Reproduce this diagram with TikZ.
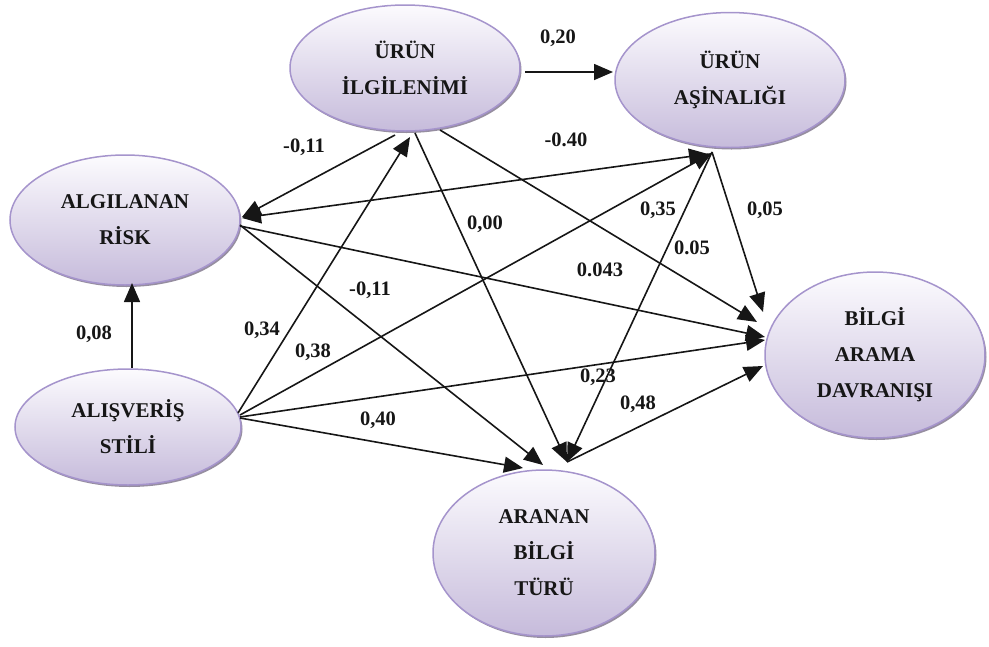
\documentclass[tikz,border=0pt]{standalone}
\usepackage{fontspec}
\setmainfont{Liberation Serif}
\usetikzlibrary{shapes.geometric,arrows.meta,calc,shadows}
\definecolor{lavtop}{RGB}{252,251,254}
\definecolor{lavbot}{RGB}{198,187,219}
\definecolor{lavline}{RGB}{165,148,204}
\definecolor{shad}{RGB}{150,142,160}
\definecolor{ink}{RGB}{22,22,22}
\begin{document}
\begin{tikzpicture}[x=1pt,y=-1pt,
  latent/.style={ellipse, draw=lavline, line width=1.5pt, top color=lavtop, bottom color=lavbot,
    drop shadow={shadow xshift=1.5pt, shadow yshift=-2pt, fill=shad, opacity=1},
    align=center, text=ink, font=\fontsize{21}{36}\selectfont\bfseries, inner sep=0pt},
  arr/.style={-{Triangle[length=19pt,width=16pt]}, line width=1.6pt, draw=ink},
  barr/.style={{Triangle[length=19pt,width=16pt]}-{Triangle[length=19pt,width=16pt]}, line width=1.6pt, draw=ink},
  lab/.style={font=\fontsize{20.5}{24}\selectfont\bfseries, inner sep=0pt, text=ink}]
\useasboundingbox (0,0) rectangle (989,646);

\node[latent, minimum width=230pt, minimum height=126pt] (ui) at (405,68) {ÜRÜN\\İLGİLENİMİ};
\node[latent, minimum width=230pt, minimum height=135pt] (ua) at (730,80) {ÜRÜN\\AŞİNALIĞI};
\node[latent, minimum width=230pt, minimum height=130pt] (risk) at (125,220) {ALGILANAN\\RİSK};
\node[latent, minimum width=226pt, minimum height=116pt] (alis) at (128,427) {ALIŞVERİŞ\\STİLİ};
\node[latent, minimum width=220pt, minimum height=166pt] (bilgi) at (875,355) {BİLGİ\\ARAMA\\DAVRANIŞI};
\node[latent, minimum width=222pt, minimum height=166pt] (aranan) at (544,553) {ARANAN\\BİLGİ\\TÜRÜ};

% connectors
\draw[arr] ($(ui)+(120,4)$) -- ($(ua)+(-117,-8)$);
\draw[arr] ($(ui)+(-10,67)$) -- ($(risk)+(117,-3)$);
\draw[barr] ($(ua)+(-22,74)$) -- ($(risk)+(117,-2)$);
\draw[arr] ($(risk)+(115,6)$) -- ($(bilgi)+(-110,-18)$);
\draw[arr] ($(risk)+(115,5)$) -- ($(aranan)+(-1,-88)$);
\draw[arr] ($(alis)+(4,-59)$) -- ($(risk)+(7,63)$);
\draw[arr] ($(alis)+(110,-14)$) -- ($(ui)+(5,69)$);
\draw[arr] ($(alis)+(112,-12)$) -- ($(ua)+(-18,73)$);
\draw[arr] ($(alis)+(112,-10)$) -- ($(bilgi)+(-110,-15)$);
\draw[arr] ($(alis)+(112,-9)$) -- ($(aranan)+(-21,-85)$);
\draw[arr] ($(ui)+(10,65)$) -- ($(aranan)+(23,-91)$);
\draw[arr] ($(ui)+(35,62)$) -- ($(bilgi)+(-118,-33)$);
\draw[arr] ($(ua)+(-18,72)$) -- ($(bilgi)+(-112,-43)$);
\draw[arr] ($(ua)+(-18,72)$) -- ($(aranan)+(23,-91)$);
\draw[arr] ($(aranan)+(23,-91)$) -- ($(bilgi)+(-112,11)$);

% labels
\node[lab] (l1) at (558,38) {0,20};
\node[lab] (l2) at (304,147) {-0,11};
\node[lab] (l3) at (566,140) {-0.40};
\node[lab] (l4) at (658,210) {0,35};
\node[lab] (l5) at (765,210) {0,05};
\node[lab] (l6) at (692,248) {0.05};
\node[lab] (l7) at (485,224) {0,00};
\node[lab] (l8) at (600,270) {0.043};
\node[lab] (l9) at (370,290) {-0,11};
\node[lab] (l10) at (262,330) {0,34};
\node[lab] (l11) at (313,352) {0,38};
\node[lab] (l12) at (598,377) {0,23};
\node[lab] (l13) at (378,420) {0,40};
\node[lab] (l14) at (638,404) {0,48};
\node[lab] (l15) at (94,334) {0,08};
\end{tikzpicture}
\end{document}
